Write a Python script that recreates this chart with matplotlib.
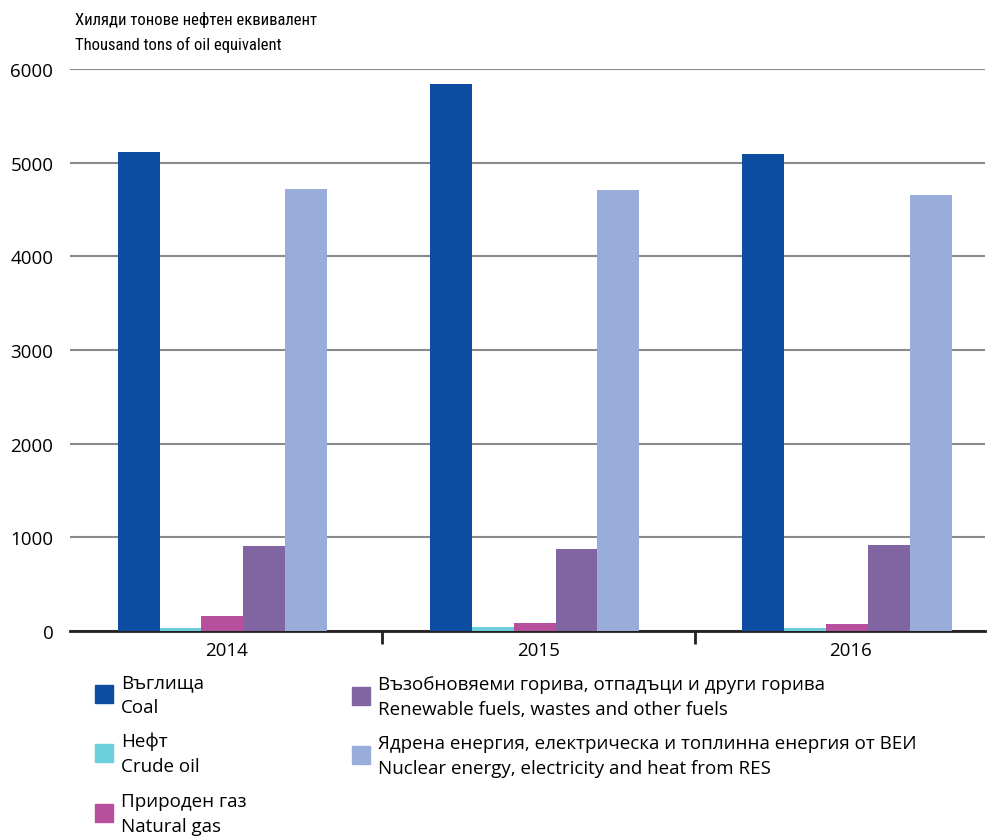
import matplotlib.pyplot as plt
import numpy as np
from matplotlib.patches import Rectangle
from matplotlib import font_manager

years = ['2014', '2015', '2016']
coal = [5114, 5840, 5092]
crude_oil = [30, 40, 30]
natural_gas = [160, 85, 75]
renewables = [907, 875, 918]
nuclear = [4719, 4708, 4655]

series_bg = ['Въглища', 'Нефт', 'Природен газ',
             'Възобновяеми горива, отпадъци и други горива',
             'Ядрена енергия, електрическа и топлинна енергия от ВЕИ']
series_en = ['Coal', 'Crude oil', 'Natural gas',
             'Renewable fuels, wastes and other fuels',
             'Nuclear energy, electricity and heat from RES']
colors = ['#0c4da2', '#6ccfdc', '#b7509c', '#8165a3', '#99addb']

plt.rcParams['font.family'] = ['Open Sans', 'DejaVu Sans']

# condensed face for the unit label, if one is installed
names = {f.name for f in font_manager.fontManager.ttflist}
narrow = [n for n in ['Liberation Sans Narrow', 'Roboto Condensed',
                      'Open Sans Condensed', 'DejaVu Sans Condensed'] if n in names]
cond = [f for f in font_manager.fontManager.ttflist
        if f.name == 'DejaVu Sans' and f.stretch == 'condensed']

fig = plt.figure(figsize=(9.89, 8.37), dpi=100)
ax = fig.add_axes([70 / 989, 1 - 632 / 837, 915 / 989, 562 / 837])

data = [coal, crude_oil, natural_gas, renewables, nuclear]
x = np.arange(len(years))
w = 0.134
for i, (vals, c) in enumerate(zip(data, colors)):
    ax.bar(x + (i - 2) * w - 0.012, vals, width=w, color=c, zorder=3)

ax.set_xlim(-0.5, 2.43)
ax.set_ylim(0, 6000)
ax.set_yticks(range(0, 6001, 1000))
ax.grid(axis='y', color='#8a8a8a', linewidth=1.5, zorder=0)
ax.set_axisbelow(True)
for s in ['top', 'right', 'left']:
    ax.spines[s].set_visible(False)
ax.spines['bottom'].set_linewidth(2)
ax.spines['bottom'].set_color('#231f20')
ax.tick_params(axis='y', length=0, labelsize=13.5, pad=12)
ax.set_xticks(x)
ax.set_xticklabels(years, fontsize=13.5)
ax.tick_params(axis='x', length=0, pad=7)
ax.set_xticks([0.5, 1.5], minor=True)
ax.tick_params(axis='x', which='minor', length=9, width=2, color='#231f20')

if narrow:
    tkw = dict(family=narrow + ['DejaVu Sans'], fontsize=12)
elif cond:
    tkw = dict(family='DejaVu Sans', stretch='condensed', fontsize=11)
else:
    tkw = dict(fontsize=10.5)
fig.text(75 / 989, 1 - 20 / 837, 'Хиляди тонове нефтен еквивалент', va='center', **tkw)
fig.text(75 / 989, 1 - 45 / 837, 'Thousand tons of oil equivalent', va='center', **tkw)

# legend drawn by hand
pos = [(95, 695), (95, 754), (95, 814), (352, 697), (352, 756)]
for (px, py), c, bg, en in zip(pos, colors, series_bg, series_en):
    fig.patches.append(Rectangle((px / 989, 1 - (py + 9) / 837), 18 / 989, 18 / 837,
                                 transform=fig.transFigure, color=c))
    fig.text((px + 26) / 989, 1 - (py - 12) / 837, bg, fontsize=13.5, va='center')
    fig.text((px + 26) / 989, 1 - (py + 13) / 837, en, fontsize=13.5, va='center')

fig.savefig('out.png', dpi=100)
